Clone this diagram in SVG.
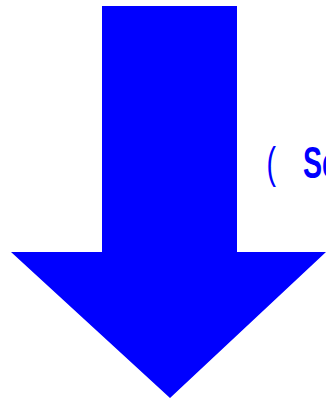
<svg xmlns="http://www.w3.org/2000/svg" width="326" height="401" viewBox="0 0 326 401">
<style>
.arrow{fill:#0000ff;stroke:none}
.lbl{fill:#0000ff;font-family:"Liberation Sans",Arial,sans-serif;font-size:44px}
</style>
<g id="arrow">
<polygon class="arrow" points="102,6 237,6 237,252 326,252 170,398 11,252 102,252"/>
</g>
<g id="label" transform="scale(0.65,1)">
<text class="lbl" y="178"><tspan x="410">(</tspan><tspan x="466" font-weight="bold">Sc</tspan></text>
</g>
<g id="connectors"/>
</svg>
